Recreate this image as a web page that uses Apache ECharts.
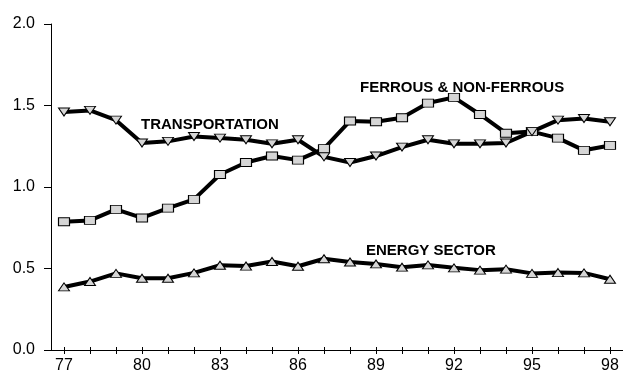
<!DOCTYPE html>
<html>
<head>
<meta charset="utf-8">
<script src="https://cdn.jsdelivr.net/npm/echarts@6/dist/echarts.min.js"></script>
<style>html,body{margin:0;padding:0;background:#fff;}#c{width:623px;height:374px;}</style>
</head>
<body>
<div id="c"></div>
<script>
var years = ['77','78','79','80','81','82','83','84','85','86','87','88','89','90','91','92','93','94','95','96','97','98'];
var transportation = [1.46,1.47,1.41,1.27,1.28,1.31,1.30,1.29,1.265,1.29,1.185,1.15,1.19,1.245,1.29,1.265,1.265,1.27,1.34,1.41,1.42,1.40];
var ferrous = [0.787,0.795,0.863,0.81,0.87,0.924,1.077,1.15,1.19,1.165,1.235,1.405,1.40,1.425,1.515,1.55,1.445,1.33,1.34,1.30,1.225,1.255];
var energy = [0.387,0.42,0.47,0.44,0.44,0.473,0.52,0.515,0.543,0.514,0.56,0.54,0.528,0.508,0.522,0.504,0.49,0.496,0.47,0.475,0.473,0.434];
var yTicks = [0, 0.5, 1.0, 1.5, 2.0];

var FONT = '"Liberation Sans", Arial, sans-serif';
var chart = echarts.init(document.getElementById('c'), null, {renderer: 'canvas'});
function lineSeries(name, data, symbol, rotate) {
  return {
    name: name, type: 'line', data: data,
    symbol: symbol, symbolSize: [11, 8], symbolRotate: rotate || 0,
    showAllSymbol: true,
    lineStyle: {color: '#000', width: 4},
    itemStyle: {color: '#d6d6d6', borderColor: '#000', borderWidth: 1},
    emphasis: {disabled: true},
    animation: false
  };
}
chart.setOption({
  animation: false,
  backgroundColor: '#fff',
  grid: [
    {left: 51, width: 574, top: 24, bottom: 23},
    {left: 51, width: 574, top: 24, bottom: 23}
  ],
  xAxis: [{
    type: 'category', data: years, boundaryGap: true, gridIndex: 0,
    axisLine: {lineStyle: {color: '#000', width: 1}},
    axisTick: {show: true, alignWithLabel: true, interval: 0, length: 4, lineStyle: {color: '#000'}},
    axisLabel: {interval: 2, color: '#000', fontSize: 16, fontFamily: FONT, margin: 8},
    splitLine: {show: false}
  }, {
    type: 'category', data: years, boundaryGap: true, gridIndex: 1,
    axisLine: {show: false},
    axisTick: {show: true, inside: true, alignWithLabel: true, interval: 0, length: 4, lineStyle: {color: '#000'}},
    axisLabel: {show: false},
    splitLine: {show: false}
  }],
  yAxis: [{
    type: 'value', min: yTicks[0], max: yTicks[yTicks.length - 1], interval: 0.5, gridIndex: 0,
    axisLine: {show: true, lineStyle: {color: '#000', width: 1}},
    axisTick: {show: true, length: 7, lineStyle: {color: '#000'}},
    axisLabel: {color: '#000', fontSize: 16, fontFamily: FONT, margin: 16,
      formatter: function (v) { return v.toFixed(1); }},
    splitLine: {show: false}
  }, {
    type: 'value', min: 0, max: 2, gridIndex: 1, show: false
  }],
  graphic: [
    {type: 'text', left: 141, top: 117, style: {text: 'TRANSPORTATION', font: 'bold 15px ' + FONT, fill: '#000'}},
    {type: 'text', left: 360, top: 80, style: {text: 'FERROUS & NON-FERROUS', font: 'bold 15px ' + FONT, fill: '#000'}},
    {type: 'text', left: 366, top: 243, style: {text: 'ENERGY SECTOR', font: 'bold 15px ' + FONT, fill: '#000'}}
  ],
  series: [
    lineSeries('Ferrous & Non-Ferrous', ferrous, 'rect'),
    lineSeries('Transportation', transportation, 'triangle', 180),
    lineSeries('Energy Sector', energy, 'triangle')
  ]
});
</script>
</body>
</html>
